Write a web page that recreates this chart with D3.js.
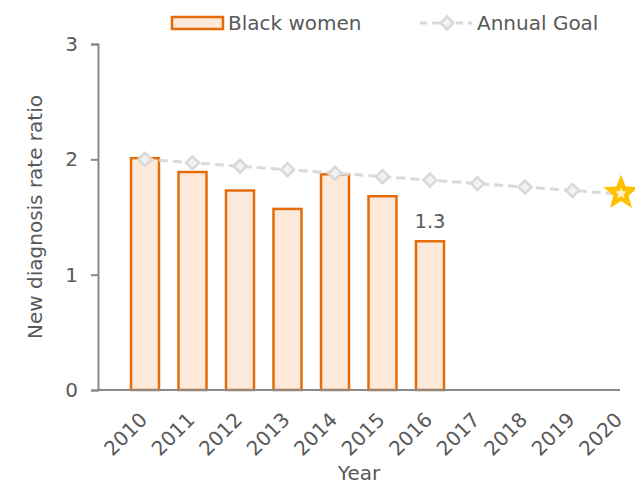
<!DOCTYPE html>
<html>
<head>
<meta charset="utf-8">
<script src="https://cdn.jsdelivr.net/npm/d3@7"></script>
<style>
  html, body { margin: 0; padding: 0; background: #fff; }
  text { font-family: "DejaVu Sans", Verdana, sans-serif; fill: #595959; }
</style>
</head>
<body>
<svg id="chart" width="635" height="484"></svg>
<script>
const years = ["2010","2011","2012","2013","2014","2015","2016","2017","2018","2019","2020"];
const barYears = ["2010","2011","2012","2013","2014","2015","2016"];
const blackWomen = [2.01, 1.89, 1.73, 1.57, 1.87, 1.68, 1.29];
const annualGoal = [2.00, 1.97, 1.94, 1.91, 1.88, 1.85, 1.82, 1.79, 1.76, 1.73, 1.70];
const yTicks = [0, 1, 2, 3];
const dataLabel = { year: "2016", text: "1.3" };

const svg = d3.select("#chart");
const fontSize = 20;
const axisColor = "#898989";
const barFill = "#fde9d9";
const barStroke = "#e46c0a";
const goalColor = "#d9d9d9";

const plotLeft = 98, plotRight = 620, plotTop = 44, plotBottom = 390;

const x = d3.scalePoint().domain(years).range([145, 620]);
const y = d3.scaleLinear().domain([0, 3]).range([plotBottom, plotTop]);
const barW = 28;

// Bars
svg.append("g").selectAll("rect")
  .data(barYears.map((yr, i) => ({ yr, v: blackWomen[i] })))
  .join("rect")
  .attr("x", d => x(d.yr) - barW / 2)
  .attr("y", d => y(d.v))
  .attr("width", barW)
  .attr("height", d => y(0) - y(d.v))
  .attr("fill", barFill)
  .attr("stroke", barStroke)
  .attr("stroke-width", 2.5);

// Y axis
const yAxis = d3.axisLeft(y).tickValues(yTicks).tickFormat(d3.format("d")).tickSize(7).tickPadding(13);
const gy = svg.append("g").attr("transform", `translate(${plotLeft},0)`).call(yAxis);
gy.select(".domain").attr("stroke", axisColor).attr("stroke-width", 2);
gy.selectAll(".tick line").attr("stroke", axisColor).attr("stroke-width", 2);
gy.selectAll(".tick text").attr("font-size", fontSize).attr("fill", "#595959")
  .style("font-family", '"DejaVu Sans", Verdana, sans-serif');

// X axis
const xAxis = d3.axisBottom(x).tickSize(0).tickPadding(0);
const gx = svg.append("g").attr("transform", `translate(0,${plotBottom})`).call(xAxis);
gx.select(".domain").remove();
gx.append("line").attr("x1", plotLeft).attr("x2", plotRight).attr("y1", 0).attr("y2", 0)
  .attr("stroke", axisColor).attr("stroke-width", 2);
gx.selectAll(".tick text")
  .attr("x", 0).attr("y", 0).attr("dy", 0)
  .attr("text-anchor", "end")
  .attr("transform", "translate(3,31) rotate(-45)")
  .attr("font-size", fontSize).attr("fill", "#595959")
  .style("font-family", '"DejaVu Sans", Verdana, sans-serif');

// Goal line
const goalPts = years.map((yr, i) => ({ yr, v: annualGoal[i] }));
svg.append("path")
  .datum(goalPts)
  .attr("d", d3.line().x(d => x(d.yr)).y(d => y(d.v)))
  .attr("fill", "none")
  .attr("stroke", goalColor)
  .attr("stroke-width", 3)
  .attr("stroke-dasharray", "9,5");

const diamond = "M0,-6.5L6.5,0L0,6.5L-6.5,0Z";
svg.append("g").selectAll("path")
  .data(goalPts.slice(0, goalPts.length - 1))
  .join("path")
  .attr("d", diamond)
  .attr("transform", d => `translate(${x(d.yr)},${y(d.v)})`)
  .attr("fill", "#f2f2f2")
  .attr("stroke", goalColor)
  .attr("stroke-width", 2.5);

// Star marker shape (5-pointed)
function starPath(rOuter, rInner) {
  const pts = d3.range(10).map(i => [i * Math.PI / 5, i % 2 === 0 ? rOuter : rInner]);
  return d3.lineRadial().angle(d => d[0]).radius(d => d[1]).curve(d3.curveLinearClosed)(pts);
}

// Star at final goal
const last = goalPts[goalPts.length - 1];
const starG = svg.append("g").attr("transform", `translate(${x(last.yr) + 1},${y(last.v) - 1})`);
starG.append("path")
  .attr("d", starPath(18.5, 8))
  .attr("fill", "#ffc000");
starG.append("path")
  .attr("d", starPath(6, 2.8))
  .attr("transform", "translate(0,0.5)")
  .attr("fill", "#fff2cc");

// Data label
const li = barYears.indexOf(dataLabel.year);
svg.append("text")
  .attr("x", x(dataLabel.year))
  .attr("y", y(blackWomen[li]) - 13)
  .attr("text-anchor", "middle")
  .attr("font-size", 19.5)
  .text(dataLabel.text);

// Axis titles
svg.append("text")
  .attr("transform", `translate(42,${(plotTop + plotBottom) / 2}) rotate(-90)`)
  .attr("text-anchor", "middle")
  .attr("font-size", fontSize)
  .text("New diagnosis rate ratio");

svg.append("text")
  .attr("x", (plotLeft + plotRight) / 2)
  .attr("y", 480)
  .attr("text-anchor", "middle")
  .attr("font-size", fontSize)
  .text("Year");

// Legend
const lg = svg.append("g");
lg.append("rect").attr("x", 172).attr("y", 17).attr("width", 51).attr("height", 12)
  .attr("fill", barFill).attr("stroke", barStroke).attr("stroke-width", 2.5);
lg.append("text").attr("x", 228).attr("y", 30).attr("font-size", fontSize).text("Black women");
lg.append("line").attr("x1", 420).attr("x2", 472).attr("y1", 23).attr("y2", 23)
  .attr("stroke", goalColor).attr("stroke-width", 3).attr("stroke-dasharray", "7,5");
lg.append("path").attr("d", diamond).attr("transform", "translate(447,23)")
  .attr("fill", "#f2f2f2").attr("stroke", goalColor).attr("stroke-width", 2.5);
lg.append("text").attr("x", 477).attr("y", 30).attr("font-size", fontSize).text("Annual Goal");
</script>
</body>
</html>
